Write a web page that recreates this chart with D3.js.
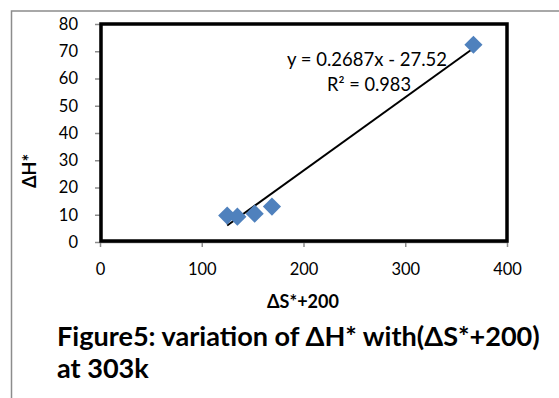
<!DOCTYPE html>
<html><head><meta charset="utf-8">
<script src="https://cdn.jsdelivr.net/npm/d3@7"></script>
<style>body{margin:0;background:#fff;} svg{display:block;} text{font-family:Lato,"Open Sans",sans-serif;}</style>
</head><body>
<svg id="c" width="559" height="398"></svg>
<script>
const xVals = [125, 135, 152, 169, 367];
const yVals = [9.7, 9.3, 10.4, 13.0, 72.4];
const xTicks = [0, 100, 200, 300, 400];
const yTicks = [0, 10, 20, 30, 40, 50, 60, 70, 80];
const slope = 0.2687, intercept = -27.52;
const eqText = "y = 0.2687x - 27.52";
const r2Text = "R² = 0.983";
const xTitle = "ΔS*+200";
const yTitle = "ΔH*";
const caption = ["Figure5: variation of ΔH* with(ΔS*+200)", "at 303k"];

const svg = d3.select("#c");
const x = d3.scaleLinear().domain([0, 400]).range([100, 507]);
const y = d3.scaleLinear().domain([0, 80]).range([242, 24]);

function fit(sel, target) {
  const n = sel.node();
  const fs = parseFloat(sel.attr("font-size"));
  const w = n.getComputedTextLength();
  sel.attr("font-size", fs * target / w);
}

// outer border
svg.append("path").attr("d", "M11.5,398 L11.5,11 L559,11").attr("fill","none").attr("stroke","#8c8c8c").attr("stroke-width",1.5);

// axes
const xa = svg.append("g").attr("transform", `translate(0,${y(0)})`)
  .call(d3.axisBottom(x).tickValues(xTicks).tickSize(5).tickSizeOuter(0).tickPadding(16));
const ya = svg.append("g").attr("transform", `translate(${x(0)},0)`)
  .call(d3.axisLeft(y).tickValues(yTicks).tickSize(5).tickSizeOuter(0).tickPadding(17));
[xa, ya].forEach(a => {
  a.selectAll("line").attr("stroke","#8c8c8c").attr("stroke-width",1.5);
  a.select(".domain").attr("stroke","#8c8c8c").attr("stroke-width",1.5);
  a.selectAll("text").attr("font-size",16.5).attr("fill","#000").style("font-family","Lato, 'Open Sans', sans-serif");
});

// plot frame
svg.append("rect").attr("x", x(0)+1).attr("y", y(80)).attr("width", x(400)-x(0)-1).attr("height", y(0)-y(80)-1)
  .attr("fill","none").attr("stroke","#000").attr("stroke-width",3.5);

// trendline
const xmin = d3.min(xVals), xmax = d3.max(xVals);
svg.append("line").attr("x1", x(xmin)).attr("y1", y(slope*xmin+intercept))
  .attr("x2", x(xmax)).attr("y2", y(slope*xmax+intercept))
  .attr("stroke","#000").attr("stroke-width",2);

// points
svg.append("g").selectAll("path").data(xVals.map((v,i)=>[v,yVals[i]])).join("path")
  .attr("d", d3.symbol().type(d3.symbolDiamond2).size(210))
  .attr("transform", d => `translate(${x(d[0])},${y(d[1])})`)
  .attr("fill","#4f81bd");

// equation
const eq = svg.append("text").attr("x", 367).attr("y", 66).attr("text-anchor","middle").attr("font-size",18).text(eqText);
fit(eq, 160);
const r2 = svg.append("text").attr("x", 369).attr("y", 91).attr("text-anchor","middle").attr("font-size",18).text(r2Text);
fit(r2, 84);

// axis titles
const xt = svg.append("text").attr("x", 303).attr("y", 308).attr("text-anchor","middle").attr("font-size",16).attr("font-weight","bold").text(xTitle);
fit(xt, 72);
const yt = svg.append("text").attr("transform","translate(36,171) rotate(-90)").attr("text-anchor","middle").attr("font-size",16).attr("font-weight","bold").text(yTitle);
yt.attr("font-size", xt.attr("font-size"));

// caption
const c1 = svg.append("text").attr("x", 57).attr("y", 346).attr("font-size",22).attr("font-weight","bold").text(caption[0]);
fit(c1, 483);
svg.append("text").attr("x", 57).attr("y", 378).attr("font-size", c1.attr("font-size")).attr("font-weight","bold").text(caption[1]);
</script>
</body></html>
